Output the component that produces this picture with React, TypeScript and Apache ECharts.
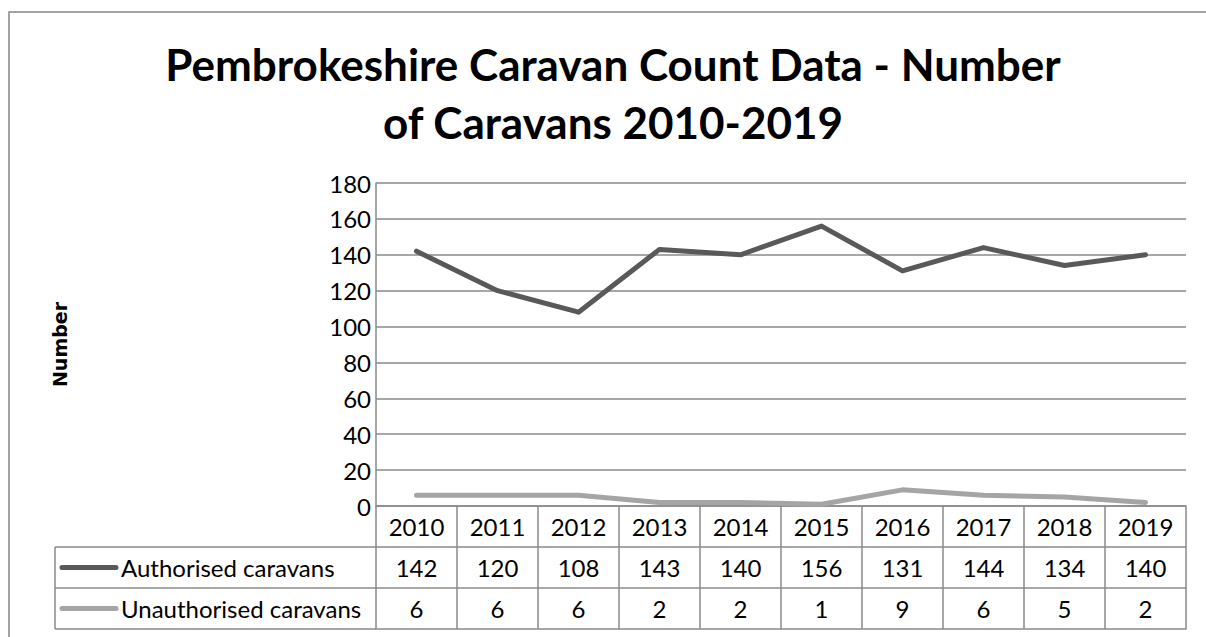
import React, { useEffect, useRef } from "react";
import * as echarts from "echarts";

const years = ["2010", "2011", "2012", "2013", "2014", "2015", "2016", "2017", "2018", "2019"];
const authorised = [142, 120, 108, 143, 140, 156, 131, 144, 134, 140];
const unauthorised = [6, 6, 6, 2, 2, 1, 9, 6, 5, 2];
const seriesNames = ["Authorised caravans", "Unauthorised caravans"];
const seriesColors = ["#595959", "#a5a5a5"];
const titleLines = ["Pembrokeshire Caravan Count Data - Number", "of Caravans 2010-2019"];
const yAxisName = "Number";
const yMin = 0;
const yMax = 180;
const yInterval = 20;

const W = 1206;
const H = 637;
const GRID_LEFT = 376;
const GRID_RIGHT = 1186;
const GRID_TOP = 183;
const GRID_BOTTOM = 506;
const ROW_H = 41;
const TABLE_LEFT = 55;
const GRAY = "#8a8a8a";
const FONT = "Lato";
const TEXT_SIZE = 24;

export default function App() {
  const ref = useRef<HTMLDivElement>(null);

  useEffect(() => {
    if (!ref.current) return;
    const chart = echarts.init(ref.current, undefined, { renderer: "svg" });

    const lineStyle = { color: GRAY, width: 1.5 };
    const tableAxis = (index: number, values: number[] | null) => ({
      type: "category" as const,
      gridIndex: 0,
      position: "bottom" as const,
      offset: index * ROW_H,
      data: years,
      boundaryGap: true,
      axisLine: { show: true, lineStyle },
      axisTick: { show: index < 3, length: ROW_H, interval: 0, lineStyle },
      axisLabel: {
        show: index < 3,
        interval: 0,
        margin: ROW_H / 2,
        verticalAlign: "middle" as const,
        fontFamily: FONT,
        fontSize: TEXT_SIZE,
        color: "#000",
        formatter: (v: string, i: number) => (values ? String(values[i]) : v),
      },
      splitLine: { show: false },
    });

    const rowsTop = GRID_BOTTOM + ROW_H;
    const graphics: any[] = [
      {
        type: "rect",
        shape: { x: 9, y: 12, width: 1400, height: 1000 },
        style: { fill: "none", stroke: "#868686", lineWidth: 1.5 },
        silent: true,
      },
      {
        type: "line",
        shape: { x1: TABLE_LEFT, y1: rowsTop, x2: TABLE_LEFT, y2: rowsTop + 2 * ROW_H },
        style: { stroke: GRAY, lineWidth: 1.5 },
      },
    ];
    for (let r = 0; r <= 2; r++) {
      graphics.push({
        type: "line",
        shape: { x1: TABLE_LEFT, y1: rowsTop + r * ROW_H, x2: GRID_LEFT, y2: rowsTop + r * ROW_H },
        style: { stroke: GRAY, lineWidth: 1.5 },
      });
    }
    seriesNames.forEach((name, i) => {
      const cy = rowsTop + i * ROW_H + ROW_H / 2;
      graphics.push({
        type: "line",
        shape: { x1: 62, y1: cy, x2: 116, y2: cy },
        style: { stroke: seriesColors[i], lineWidth: 5, lineCap: "round" },
      });
      graphics.push({
        type: "text",
        x: 121,
        y: cy,
        style: {
          text: name,
          fontFamily: FONT,
          fontSize: TEXT_SIZE,
          fill: "#000",
          verticalAlign: "middle",
          align: "left",
        },
      });
    });

    chart.setOption({
      animation: false,
      backgroundColor: "#fff",
      title: {
        text: titleLines.join("\n"),
        left: 608,
        textAlign: "center",
        top: 30,
        textStyle: {
          fontFamily: FONT,
          fontWeight: "bold",
          fontSize: 44,
          lineHeight: 58,
          color: "#000",
        },
      },
      grid: {
        left: GRID_LEFT,
        right: W - GRID_RIGHT,
        top: GRID_TOP,
        bottom: H - GRID_BOTTOM,
        containLabel: false,
      },
      xAxis: [
        tableAxis(0, null),
        tableAxis(1, authorised),
        tableAxis(2, unauthorised),
        tableAxis(3, null),
      ],
      yAxis: {
        type: "value",
        min: yMin,
        max: yMax,
        interval: yInterval,
        name: yAxisName,
        nameLocation: "middle",
        nameRotate: 90,
        nameGap: GRID_LEFT - 69,
        nameTextStyle: {
          fontFamily: "DejaVu Sans",
          fontWeight: "bold",
          fontSize: 19,
          color: "#000",
        },
        axisLine: { show: true, lineStyle },
        axisTick: { show: false },
        axisLabel: { fontFamily: FONT, fontSize: TEXT_SIZE, color: "#000", margin: 5 },
        splitLine: { show: true, lineStyle },
      },
      series: [
        {
          name: seriesNames[0],
          type: "line",
          xAxisIndex: 0,
          data: authorised,
          symbol: "none",
          lineStyle: { color: seriesColors[0], width: 5, cap: "round", join: "round" },
          itemStyle: { color: seriesColors[0] },
        },
        {
          name: seriesNames[1],
          type: "line",
          xAxisIndex: 0,
          data: unauthorised,
          symbol: "none",
          lineStyle: { color: seriesColors[1], width: 5, cap: "round", join: "round" },
          itemStyle: { color: seriesColors[1] },
        },
      ],
      graphic: graphics,
    });

    return () => chart.dispose();
  }, []);

  return (
    <div
      ref={ref}
      style={{ position: "fixed", left: 0, top: 0, width: W, height: H, background: "#fff" }}
    />
  );
}
